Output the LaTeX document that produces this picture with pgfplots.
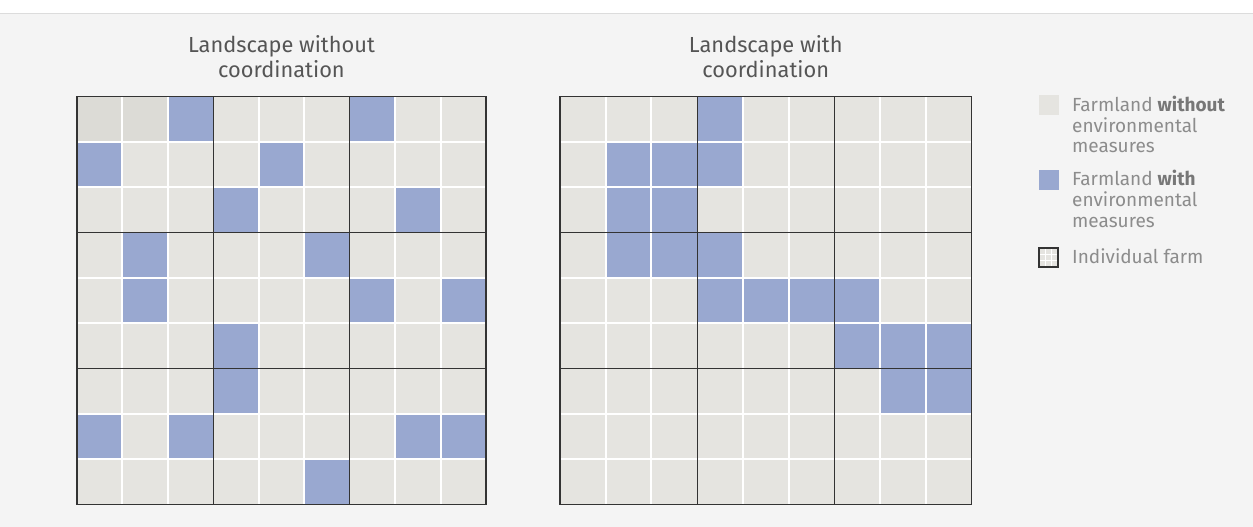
\documentclass[border=0pt]{standalone}
\usepackage{pgfplots}
\pgfplotsset{compat=1.18}
\usepackage{fontspec}
\setmainfont{Fira Sans}
\definecolor{bg}{HTML}{F4F4F4}
\definecolor{topline}{HTML}{DCDCDC}
\definecolor{farmgrey}{HTML}{E5E4E0}
\definecolor{farmblue}{HTML}{99A8D0}
\definecolor{titlegrey}{HTML}{555555}
\definecolor{leggrey}{HTML}{8C8C8C}
\definecolor{legbold}{HTML}{777777}
\definecolor{gridblack}{HTML}{333333}
\pgfplotsset{
  farmgrid/.style={
    scale only axis, height=408pt,
    anchor=south west,
    xmin=0, xmax=9, ymin=0, ymax=9,
    axis on top,
    xtick={1,2,4,5,7,8}, ytick={1,2,4,5,7,8},
    xticklabels={}, yticklabels={},
    major tick length=0pt,
    grid=major,
    major grid style={white, line width=2pt},
    extra x ticks={3,6}, extra y ticks={3,6},
    extra x tick labels={}, extra y tick labels={},
    extra tick style={major grid style={gridblack, line width=1pt}, major tick length=0pt},
    axis line style={gridblack, line width=1.3pt},
    colormap={farm}{rgb255(0)=(220,219,214) rgb255(1)=(229,228,224) rgb255(2)=(153,168,208)},
    point meta min=0, point meta max=2,
    title style={align=center, font=\fontsize{21.8}{25}\selectfont, text=titlegrey, inner sep=0pt, yshift=13pt},
  },
  cells/.style={matrix plot*, point meta=explicit, mesh/cols=9},
}
\begin{document}
\begin{tikzpicture}
\useasboundingbox (0,0) rectangle (1253pt,527pt);
\fill[white] (0,0) rectangle (1253pt,527pt);
\fill[bg] (0,0) rectangle (1253pt,513pt);
\draw[topline, line width=1.5pt] (0,513.5pt) -- (1253pt,513.5pt);

\begin{axis}[farmgrid, width=409pt, at={(77pt,22.5pt)},
  title={Landscape without\\coordination}]
\addplot[cells] coordinates {
(0.5,0.5)[1] (1.5,0.5)[1] (2.5,0.5)[1] (3.5,0.5)[1] (4.5,0.5)[1] (5.5,0.5)[2] (6.5,0.5)[1] (7.5,0.5)[1] (8.5,0.5)[1]
(0.5,1.5)[2] (1.5,1.5)[1] (2.5,1.5)[2] (3.5,1.5)[1] (4.5,1.5)[1] (5.5,1.5)[1] (6.5,1.5)[1] (7.5,1.5)[2] (8.5,1.5)[2]
(0.5,2.5)[1] (1.5,2.5)[1] (2.5,2.5)[1] (3.5,2.5)[2] (4.5,2.5)[1] (5.5,2.5)[1] (6.5,2.5)[1] (7.5,2.5)[1] (8.5,2.5)[1]
(0.5,3.5)[1] (1.5,3.5)[1] (2.5,3.5)[1] (3.5,3.5)[2] (4.5,3.5)[1] (5.5,3.5)[1] (6.5,3.5)[1] (7.5,3.5)[1] (8.5,3.5)[1]
(0.5,4.5)[1] (1.5,4.5)[2] (2.5,4.5)[1] (3.5,4.5)[1] (4.5,4.5)[1] (5.5,4.5)[1] (6.5,4.5)[2] (7.5,4.5)[1] (8.5,4.5)[2]
(0.5,5.5)[1] (1.5,5.5)[2] (2.5,5.5)[1] (3.5,5.5)[1] (4.5,5.5)[1] (5.5,5.5)[2] (6.5,5.5)[1] (7.5,5.5)[1] (8.5,5.5)[1]
(0.5,6.5)[1] (1.5,6.5)[1] (2.5,6.5)[1] (3.5,6.5)[2] (4.5,6.5)[1] (5.5,6.5)[1] (6.5,6.5)[1] (7.5,6.5)[2] (8.5,6.5)[1]
(0.5,7.5)[2] (1.5,7.5)[1] (2.5,7.5)[1] (3.5,7.5)[1] (4.5,7.5)[2] (5.5,7.5)[1] (6.5,7.5)[1] (7.5,7.5)[1] (8.5,7.5)[1]
(0.5,8.5)[0] (1.5,8.5)[0] (2.5,8.5)[2] (3.5,8.5)[1] (4.5,8.5)[1] (5.5,8.5)[1] (6.5,8.5)[2] (7.5,8.5)[1] (8.5,8.5)[1]
};
\end{axis}

\begin{axis}[farmgrid, width=411.5pt, at={(560pt,22.5pt)},
  title={Landscape with\\coordination}]
\addplot[cells] coordinates {
(0.5,0.5)[1] (1.5,0.5)[1] (2.5,0.5)[1] (3.5,0.5)[1] (4.5,0.5)[1] (5.5,0.5)[1] (6.5,0.5)[1] (7.5,0.5)[1] (8.5,0.5)[1]
(0.5,1.5)[1] (1.5,1.5)[1] (2.5,1.5)[1] (3.5,1.5)[1] (4.5,1.5)[1] (5.5,1.5)[1] (6.5,1.5)[1] (7.5,1.5)[1] (8.5,1.5)[1]
(0.5,2.5)[1] (1.5,2.5)[1] (2.5,2.5)[1] (3.5,2.5)[1] (4.5,2.5)[1] (5.5,2.5)[1] (6.5,2.5)[1] (7.5,2.5)[2] (8.5,2.5)[2]
(0.5,3.5)[1] (1.5,3.5)[1] (2.5,3.5)[1] (3.5,3.5)[1] (4.5,3.5)[1] (5.5,3.5)[1] (6.5,3.5)[2] (7.5,3.5)[2] (8.5,3.5)[2]
(0.5,4.5)[1] (1.5,4.5)[1] (2.5,4.5)[1] (3.5,4.5)[2] (4.5,4.5)[2] (5.5,4.5)[2] (6.5,4.5)[2] (7.5,4.5)[1] (8.5,4.5)[1]
(0.5,5.5)[1] (1.5,5.5)[2] (2.5,5.5)[2] (3.5,5.5)[2] (4.5,5.5)[1] (5.5,5.5)[1] (6.5,5.5)[1] (7.5,5.5)[1] (8.5,5.5)[1]
(0.5,6.5)[1] (1.5,6.5)[2] (2.5,6.5)[2] (3.5,6.5)[1] (4.5,6.5)[1] (5.5,6.5)[1] (6.5,6.5)[1] (7.5,6.5)[1] (8.5,6.5)[1]
(0.5,7.5)[1] (1.5,7.5)[2] (2.5,7.5)[2] (3.5,7.5)[2] (4.5,7.5)[1] (5.5,7.5)[1] (6.5,7.5)[1] (7.5,7.5)[1] (8.5,7.5)[1]
(0.5,8.5)[1] (1.5,8.5)[1] (2.5,8.5)[1] (3.5,8.5)[2] (4.5,8.5)[1] (5.5,8.5)[1] (6.5,8.5)[1] (7.5,8.5)[1] (8.5,8.5)[1]
};
\end{axis}

% legend
\fill[farmgrey] (1039pt,412pt) rectangle (1059pt,432pt);
\fill[farmblue] (1039pt,337pt) rectangle (1059pt,357pt);
\begin{scope}
\fill[farmgrey] (1039pt,260pt) rectangle (1058pt,279pt);
\draw[white, line width=1pt] (1045.33pt,260pt) -- (1045.33pt,279pt) (1051.67pt,260pt) -- (1051.67pt,279pt)
  (1039pt,266.33pt) -- (1058pt,266.33pt) (1039pt,272.67pt) -- (1058pt,272.67pt);
\draw[gridblack, line width=1.2pt] (1039pt,260pt) rectangle (1058pt,279pt);
\end{scope}
\begin{scope}[every node/.style={anchor=base west, inner sep=0pt, text=leggrey, font=\fontsize{19}{21}\selectfont}]
\node at (1072pt,415pt) {Farmland \textcolor{legbold}{\bfseries without}};
\node at (1072pt,394pt) {environmental};
\node at (1072pt,374pt) {measures};
\node at (1072pt,341pt) {Farmland \textcolor{legbold}{\bfseries with}};
\node at (1072pt,320pt) {environmental};
\node at (1072pt,299pt) {measures};
\node at (1072pt,263pt) {Individual farm};
\end{scope}
\end{tikzpicture}
\end{document}
